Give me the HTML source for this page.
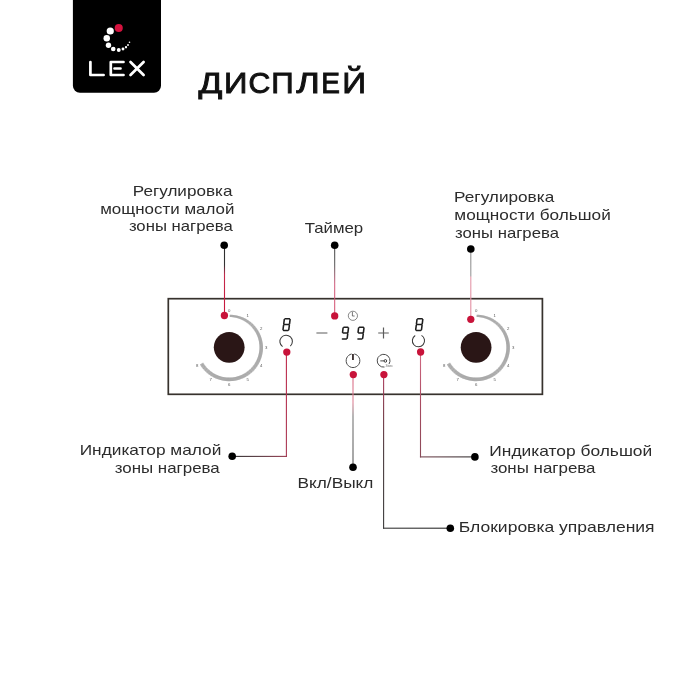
<!DOCTYPE html>
<html><head><meta charset="utf-8"><style>
html,body{margin:0;padding:0;background:#fff;}
body{width:700px;height:700px;overflow:hidden;font-family:"Liberation Sans",sans-serif;}
svg{display:block;will-change:transform;}
</style></head><body>
<svg width="700" height="700" viewBox="0 0 700 700">
<path d="M72.9,0 H161 V85.7 A7,7 0 0 1 154,92.7 H79.9 A7,7 0 0 1 72.9,85.7 Z" fill="#000"/>
<circle cx="118.75" cy="28" r="4.05" fill="#d4123e"/>
<circle cx="110.25" cy="31" r="3.6" fill="#fff"/>
<circle cx="106.75" cy="38.25" r="3.25" fill="#fff"/>
<circle cx="108.5" cy="45.25" r="2.7" fill="#fff"/>
<circle cx="113.25" cy="49" r="2.3" fill="#fff"/>
<circle cx="118.75" cy="50" r="1.95" fill="#fff"/>
<circle cx="123" cy="49" r="1.45" fill="#fff"/>
<circle cx="126" cy="47.25" r="1.15" fill="#fff"/>
<circle cx="128" cy="45" r="0.95" fill="#fff"/>
<circle cx="129.5" cy="42.25" r="0.8" fill="#fff"/>
<g stroke="#fff" stroke-width="2.7" stroke-linecap="round" stroke-linejoin="round" fill="none"><path d="M90.4,62 V75 H103.6"/><path d="M123.5,62 H110.8 V75 H123.5 M114.5,68.5 H120.5"/><path d="M130.5,62 L143.6,75 M143.6,62 L130.5,75"/></g>
<text transform="translate(198.39,93.20) scale(1.1877,1)" font-family="Liberation Sans" font-size="29.6" fill="#111" stroke="#111" stroke-width="0.9" stroke-linejoin="miter">Д</text>
<text transform="translate(224.07,93.20) scale(1.1024,1)" font-family="Liberation Sans" font-size="29.6" fill="#111" stroke="#111" stroke-width="0.9" stroke-linejoin="miter">И</text>
<text transform="translate(248.52,93.20) scale(1.0189,1)" font-family="Liberation Sans" font-size="29.6" fill="#111" stroke="#111" stroke-width="0.9" stroke-linejoin="miter">С</text>
<text transform="translate(271.33,93.20) scale(1.0524,1)" font-family="Liberation Sans" font-size="29.6" fill="#111" stroke="#111" stroke-width="0.9" stroke-linejoin="miter">П</text>
<text transform="translate(296.33,93.20) scale(1.2119,1)" font-family="Liberation Sans" font-size="29.6" fill="#111" stroke="#111" stroke-width="0.9" stroke-linejoin="miter">Л</text>
<text transform="translate(321.35,93.20) scale(0.9475,1)" font-family="Liberation Sans" font-size="29.6" fill="#111" stroke="#111" stroke-width="0.9" stroke-linejoin="miter">Е</text>
<text transform="translate(342.13,93.20) scale(1.1207,1)" font-family="Liberation Sans" font-size="29.6" fill="#111" stroke="#111" stroke-width="0.9" stroke-linejoin="miter">Й</text>
<text transform="translate(132.80,195.60) scale(1.2051,1)" font-family="Liberation Sans" font-size="14.2" fill="#2c2c2c">Регулировка</text>
<text transform="translate(100.22,213.60) scale(1.1942,1)" font-family="Liberation Sans" font-size="14.2" fill="#2c2c2c">мощности малой</text>
<text transform="translate(128.90,230.90) scale(1.1778,1)" font-family="Liberation Sans" font-size="14.2" fill="#2c2c2c">зоны нагрева</text>
<text transform="translate(304.72,232.90) scale(1.1842,1)" font-family="Liberation Sans" font-size="14.2" fill="#2c2c2c">Таймер</text>
<text transform="translate(454.09,202.00) scale(1.2112,1)" font-family="Liberation Sans" font-size="14.2" fill="#2c2c2c">Регулировка</text>
<text transform="translate(454.31,220.00) scale(1.2115,1)" font-family="Liberation Sans" font-size="14.2" fill="#2c2c2c">мощности большой</text>
<text transform="translate(455.10,238.00) scale(1.1778,1)" font-family="Liberation Sans" font-size="14.2" fill="#2c2c2c">зоны нагрева</text>
<text transform="translate(79.68,454.90) scale(1.2176,1)" font-family="Liberation Sans" font-size="14.2" fill="#2c2c2c">Индикатор малой</text>
<text transform="translate(114.70,473.40) scale(1.1914,1)" font-family="Liberation Sans" font-size="14.2" fill="#2c2c2c">зоны нагрева</text>
<text transform="translate(297.48,488.00) scale(1.2179,1)" font-family="Liberation Sans" font-size="14.2" fill="#2c2c2c">Вкл/Выкл</text>
<text transform="translate(489.37,455.60) scale(1.2252,1)" font-family="Liberation Sans" font-size="14.2" fill="#2c2c2c">Индикатор большой</text>
<text transform="translate(490.39,473.00) scale(1.1925,1)" font-family="Liberation Sans" font-size="14.2" fill="#2c2c2c">зоны нагрева</text>
<text transform="translate(458.76,532.30) scale(1.2338,1)" font-family="Liberation Sans" font-size="14.2" fill="#2c2c2c">Блокировка управления</text>
<rect x="168.3" y="298.7" width="374.1" height="95.6" fill="none" stroke="#37322d" stroke-width="1.7"/>
<circle cx="229.2" cy="347.3" r="15.4" fill="#2a1616"/>
<path d="M230.05,314.81 L231.74,314.86 L233.42,314.99 L235.09,315.20 L236.76,315.51 L238.41,315.90 L240.04,316.38 L241.64,316.94 L243.21,317.59 L244.75,318.31 L246.26,319.12 L247.72,320.01 L249.13,320.97 L250.50,322.00 L251.81,323.11 L253.06,324.28 L254.26,325.52 L255.39,326.82 L256.45,328.18 L257.44,329.59 L258.36,331.05 L259.20,332.57 L259.96,334.12 L260.65,335.72 L261.24,337.35 L261.76,339.01 L262.19,340.70 L262.53,342.41 L262.78,344.14 L262.94,345.88 L263.00,347.63 L262.94,349.38 L262.79,351.13 L262.55,352.86 L262.22,354.58 L261.80,356.28 L261.29,357.96 L260.70,359.61 L260.02,361.22 L259.26,362.80 L258.42,364.34 L257.50,365.83 L256.50,367.27 L255.43,368.66 L254.29,369.99 L253.08,371.26 L251.81,372.47 L250.48,373.61 L249.09,374.67 L247.65,375.67 L246.15,376.59 L244.61,377.43 L243.03,378.19 L241.42,378.87 L239.77,379.46 L238.09,379.96 L236.38,380.38 L234.66,380.71 L232.92,380.95 L231.17,381.10 L229.42,381.16 L227.67,381.13 L225.92,381.00 L224.18,380.79 L222.45,380.49 L220.74,380.10 L219.05,379.62 L217.39,379.05 L215.76,378.40 L214.17,377.66 L212.61,376.84 L211.10,375.95 L209.64,374.97 L208.24,373.92 L206.88,372.80 L205.59,371.61 L204.36,370.36 L203.20,369.04 L202.11,367.67 L201.09,366.24 L200.14,364.76 L203.23,362.91 L204.07,364.23 L204.98,365.51 L205.96,366.74 L206.99,367.92 L208.09,369.04 L209.25,370.10 L210.45,371.11 L211.71,372.04 L213.02,372.92 L214.37,373.72 L215.75,374.45 L217.18,375.11 L218.64,375.70 L220.12,376.21 L221.63,376.64 L223.16,376.99 L224.71,377.26 L226.26,377.46 L227.83,377.57 L229.40,377.60 L230.97,377.55 L232.53,377.42 L234.09,377.20 L235.63,376.91 L237.15,376.54 L238.66,376.09 L240.14,375.56 L241.58,374.95 L243.00,374.27 L244.38,373.52 L245.72,372.70 L247.01,371.81 L248.26,370.86 L249.45,369.84 L250.59,368.76 L251.67,367.62 L252.70,366.43 L253.65,365.19 L254.55,363.90 L255.37,362.56 L256.13,361.19 L256.81,359.77 L257.42,358.33 L257.96,356.85 L258.41,355.35 L258.79,353.83 L259.09,352.28 L259.31,350.73 L259.44,349.17 L259.50,347.60 L259.47,346.03 L259.37,344.46 L259.18,342.90 L258.91,341.36 L258.56,339.83 L258.14,338.31 L257.63,336.83 L257.05,335.37 L256.40,333.94 L255.67,332.55 L254.87,331.20 L254.00,329.89 L253.07,328.63 L252.07,327.42 L251.01,326.26 L249.89,325.16 L248.71,324.12 L247.49,323.14 L246.21,322.23 L244.89,321.38 L243.53,320.60 L242.13,319.90 L240.69,319.26 L239.22,318.71 L237.73,318.22 L236.21,317.82 L234.67,317.50 L233.12,317.25 L231.56,317.09 L229.99,317.01 Z" fill="#c6c6c6"/>
<path d="M229.99,317.01 L230.05,314.81 M230.89,317.05 L231.01,314.83 M231.78,317.11 L231.98,314.87 M232.68,317.20 L232.94,314.94 M233.57,317.32 L233.90,315.04 M234.45,317.46 L234.86,315.17 M235.33,317.63 L235.81,315.33 M236.21,317.82 L236.76,315.51 M237.08,318.04 L237.70,315.72 M237.94,318.29 L238.64,315.97 M238.80,318.56 L239.57,316.24 M239.64,318.86 L240.50,316.53 M240.48,319.18 L241.41,316.86 M241.31,319.52 L242.32,317.21 M242.13,319.90 L243.21,317.59 M242.93,320.29 L244.10,317.99 M243.72,320.71 L244.97,318.42 M244.51,321.15 L245.83,318.88 M245.27,321.61 L246.68,319.37 M246.03,322.10 L247.51,319.88 M246.76,322.61 L248.33,320.41 M247.49,323.14 L249.13,320.97 M248.19,323.69 L249.92,321.55 M248.89,324.27 L250.69,322.15 M249.56,324.86 L251.44,322.78 M250.21,325.47 L252.18,323.43 M250.85,326.10 L252.89,324.11 M251.47,326.75 L253.58,324.80 M252.07,327.42 L254.26,325.52 M252.65,328.11 L254.91,326.25 M253.20,328.81 L255.54,327.01 M253.74,329.53 L256.15,327.78 M254.26,330.26 L256.74,328.57 M254.75,331.01 L257.30,329.38 M255.22,331.78 L257.84,330.21 M255.67,332.55 L258.36,331.05 M256.09,333.34 L258.85,331.91 M256.50,334.14 L259.31,332.79 M256.87,334.96 L259.75,333.67 M257.23,335.78 L260.17,334.58 M257.55,336.62 L260.55,335.49 M257.86,337.46 L260.91,336.41 M258.14,338.31 L261.24,337.35 M258.39,339.18 L261.55,338.30 M258.62,340.04 L261.83,339.25 M258.82,340.92 L262.07,340.22 M259.00,341.80 L262.29,341.19 M259.15,342.68 L262.49,342.17 M259.27,343.57 L262.65,343.15 M259.37,344.46 L262.78,344.14 M259.44,345.36 L262.89,345.13 M259.48,346.25 L262.96,346.13 M259.50,347.15 L263.00,347.13 M259.49,348.05 L262.99,348.13 M259.46,348.94 L262.95,349.13 M259.39,349.84 L262.88,350.13 M259.31,350.73 L262.79,351.13 M259.19,351.62 L262.66,352.12 M259.05,352.51 L262.50,353.11 M258.88,353.39 L262.32,354.09 M258.69,354.26 L262.10,355.07 M258.47,355.13 L261.86,356.04 M258.23,356.00 L261.59,357.00 M257.96,356.85 L261.29,357.96 M257.66,357.70 L260.96,358.90 M257.34,358.54 L260.60,359.84 M256.99,359.36 L260.22,360.76 M256.63,360.18 L259.81,361.68 M256.23,360.99 L259.37,362.58 M255.81,361.78 L258.91,363.47 M255.37,362.56 L258.42,364.34 M254.91,363.33 L257.90,365.20 M254.42,364.09 L257.36,366.04 M253.92,364.83 L256.79,366.86 M253.39,365.55 L256.20,367.67 M252.84,366.26 L255.59,368.46 M252.26,366.95 L254.95,369.24 M251.67,367.62 L254.29,369.99 M251.06,368.28 L253.61,370.72 M250.43,368.92 L252.90,371.44 M249.78,369.54 L252.18,372.13 M249.11,370.14 L251.44,372.80 M248.43,370.72 L250.67,373.45 M247.73,371.28 L249.89,374.07 M247.01,371.81 L249.09,374.67 M246.28,372.33 L248.27,375.25 M245.53,372.82 L247.43,375.81 M244.77,373.30 L246.58,376.33 M243.99,373.75 L245.72,376.84 M243.20,374.17 L244.84,377.31 M242.40,374.57 L243.94,377.76 M241.58,374.95 L243.03,378.19 M240.76,375.31 L242.11,378.59 M239.93,375.64 L241.18,378.95 M239.08,375.94 L240.24,379.30 M238.23,376.22 L239.29,379.61 M237.37,376.48 L238.33,379.90 M236.50,376.71 L237.36,380.15 M235.63,376.91 L236.38,380.38 M234.75,377.09 L235.40,380.58 M233.87,377.24 L234.41,380.75 M232.98,377.36 L233.42,380.89 M232.09,377.46 L232.42,381.00 M231.19,377.53 L231.42,381.08 M230.30,377.58 L230.42,381.14 M229.40,377.60 L229.42,381.16 M228.50,377.59 L228.42,381.15 M227.60,377.56 L227.42,381.12 M226.71,377.50 L226.42,381.05 M225.82,377.41 L225.42,380.95 M224.93,377.30 L224.42,380.83 M224.04,377.16 L223.43,380.67 M223.16,376.99 L222.45,380.49 M222.28,376.80 L221.47,380.28 M221.41,376.58 L220.49,380.03 M220.55,376.34 L219.53,379.76 M219.69,376.07 L218.57,379.46 M218.85,375.78 L217.62,379.13 M218.01,375.46 L216.69,378.78 M217.18,375.11 L215.76,378.40 M216.36,374.75 L214.84,377.99 M215.55,374.35 L213.94,377.55 M214.76,373.94 L213.05,377.08 M213.98,373.50 L212.18,376.59 M213.21,373.04 L211.32,376.08 M212.45,372.55 L210.47,375.54 M211.71,372.04 L209.64,374.97 M210.99,371.52 L208.83,374.38 M210.28,370.97 L208.04,373.77 M209.59,370.40 L207.26,373.13 M208.91,369.80 L206.51,372.47 M208.25,369.19 L205.77,371.79 M207.62,368.56 L205.06,371.08 M206.99,367.92 L204.36,370.36 M206.39,367.25 L203.69,369.62 M205.81,366.57 L203.04,368.85 M205.25,365.87 L202.41,368.07 M204.71,365.15 L201.81,367.27 M204.20,364.42 L201.23,366.45 M203.70,363.67 L200.67,365.61 M203.23,362.91 L200.14,364.76 " stroke="#8a8a8a" stroke-width="0.5" fill="none"/>
<text x="229.2" y="311.7" font-family="Liberation Sans" font-size="4.3" fill="#555" text-anchor="middle">0</text>
<text x="247.7" y="316.7" font-family="Liberation Sans" font-size="4.3" fill="#555" text-anchor="middle">1</text>
<text x="261.2" y="330.2" font-family="Liberation Sans" font-size="4.3" fill="#555" text-anchor="middle">2</text>
<text x="266.2" y="348.7" font-family="Liberation Sans" font-size="4.3" fill="#555" text-anchor="middle">3</text>
<text x="261.2" y="367.2" font-family="Liberation Sans" font-size="4.3" fill="#555" text-anchor="middle">4</text>
<text x="247.7" y="380.7" font-family="Liberation Sans" font-size="4.3" fill="#555" text-anchor="middle">5</text>
<text x="229.2" y="385.7" font-family="Liberation Sans" font-size="4.3" fill="#555" text-anchor="middle">6</text>
<text x="210.7" y="380.7" font-family="Liberation Sans" font-size="4.3" fill="#555" text-anchor="middle">7</text>
<text x="197.2" y="367.2" font-family="Liberation Sans" font-size="4.3" fill="#555" text-anchor="middle">8</text>
<circle cx="476.1" cy="347.3" r="15.4" fill="#2a1616"/>
<path d="M476.95,314.81 L478.64,314.86 L480.32,314.99 L481.99,315.20 L483.66,315.51 L485.31,315.90 L486.94,316.38 L488.54,316.94 L490.11,317.59 L491.65,318.31 L493.16,319.12 L494.62,320.01 L496.03,320.97 L497.40,322.00 L498.71,323.11 L499.96,324.28 L501.16,325.52 L502.29,326.82 L503.35,328.18 L504.34,329.59 L505.26,331.05 L506.10,332.57 L506.86,334.12 L507.55,335.72 L508.14,337.35 L508.66,339.01 L509.09,340.70 L509.43,342.41 L509.68,344.14 L509.84,345.88 L509.90,347.63 L509.84,349.38 L509.69,351.13 L509.45,352.86 L509.12,354.58 L508.70,356.28 L508.19,357.96 L507.60,359.61 L506.92,361.22 L506.16,362.80 L505.32,364.34 L504.40,365.83 L503.40,367.27 L502.33,368.66 L501.19,369.99 L499.98,371.26 L498.71,372.47 L497.38,373.61 L495.99,374.67 L494.55,375.67 L493.05,376.59 L491.51,377.43 L489.93,378.19 L488.32,378.87 L486.67,379.46 L484.99,379.96 L483.28,380.38 L481.56,380.71 L479.82,380.95 L478.07,381.10 L476.32,381.16 L474.57,381.13 L472.82,381.00 L471.08,380.79 L469.35,380.49 L467.64,380.10 L465.95,379.62 L464.29,379.05 L462.66,378.40 L461.07,377.66 L459.51,376.84 L458.00,375.95 L456.54,374.97 L455.14,373.92 L453.78,372.80 L452.49,371.61 L451.26,370.36 L450.10,369.04 L449.01,367.67 L447.99,366.24 L447.04,364.76 L450.13,362.91 L450.97,364.23 L451.88,365.51 L452.86,366.74 L453.89,367.92 L454.99,369.04 L456.15,370.10 L457.35,371.11 L458.61,372.04 L459.92,372.92 L461.27,373.72 L462.65,374.45 L464.08,375.11 L465.54,375.70 L467.02,376.21 L468.53,376.64 L470.06,376.99 L471.61,377.26 L473.16,377.46 L474.73,377.57 L476.30,377.60 L477.87,377.55 L479.43,377.42 L480.99,377.20 L482.53,376.91 L484.05,376.54 L485.56,376.09 L487.04,375.56 L488.48,374.95 L489.90,374.27 L491.28,373.52 L492.62,372.70 L493.91,371.81 L495.16,370.86 L496.35,369.84 L497.49,368.76 L498.57,367.62 L499.60,366.43 L500.55,365.19 L501.45,363.90 L502.27,362.56 L503.03,361.19 L503.71,359.77 L504.32,358.33 L504.86,356.85 L505.31,355.35 L505.69,353.83 L505.99,352.28 L506.21,350.73 L506.34,349.17 L506.40,347.60 L506.37,346.03 L506.27,344.46 L506.08,342.90 L505.81,341.36 L505.46,339.83 L505.04,338.31 L504.53,336.83 L503.95,335.37 L503.30,333.94 L502.57,332.55 L501.77,331.20 L500.90,329.89 L499.97,328.63 L498.97,327.42 L497.91,326.26 L496.79,325.16 L495.61,324.12 L494.39,323.14 L493.11,322.23 L491.79,321.38 L490.43,320.60 L489.03,319.90 L487.59,319.26 L486.12,318.71 L484.63,318.22 L483.11,317.82 L481.57,317.50 L480.02,317.25 L478.46,317.09 L476.89,317.01 Z" fill="#c6c6c6"/>
<path d="M476.89,317.01 L476.95,314.81 M477.79,317.05 L477.91,314.83 M478.68,317.11 L478.88,314.87 M479.58,317.20 L479.84,314.94 M480.47,317.32 L480.80,315.04 M481.35,317.46 L481.76,315.17 M482.23,317.63 L482.71,315.33 M483.11,317.82 L483.66,315.51 M483.98,318.04 L484.60,315.72 M484.84,318.29 L485.54,315.97 M485.70,318.56 L486.47,316.24 M486.54,318.86 L487.40,316.53 M487.38,319.18 L488.31,316.86 M488.21,319.52 L489.22,317.21 M489.03,319.90 L490.11,317.59 M489.83,320.29 L491.00,317.99 M490.62,320.71 L491.87,318.42 M491.41,321.15 L492.73,318.88 M492.17,321.61 L493.58,319.37 M492.93,322.10 L494.41,319.88 M493.66,322.61 L495.23,320.41 M494.39,323.14 L496.03,320.97 M495.09,323.69 L496.82,321.55 M495.79,324.27 L497.59,322.15 M496.46,324.86 L498.34,322.78 M497.11,325.47 L499.08,323.43 M497.75,326.10 L499.79,324.11 M498.37,326.75 L500.48,324.80 M498.97,327.42 L501.16,325.52 M499.55,328.11 L501.81,326.25 M500.10,328.81 L502.44,327.01 M500.64,329.53 L503.05,327.78 M501.16,330.26 L503.64,328.57 M501.65,331.01 L504.20,329.38 M502.12,331.78 L504.74,330.21 M502.57,332.55 L505.26,331.05 M502.99,333.34 L505.75,331.91 M503.40,334.14 L506.21,332.79 M503.77,334.96 L506.65,333.67 M504.13,335.78 L507.07,334.58 M504.45,336.62 L507.45,335.49 M504.76,337.46 L507.81,336.41 M505.04,338.31 L508.14,337.35 M505.29,339.18 L508.45,338.30 M505.52,340.04 L508.73,339.25 M505.72,340.92 L508.97,340.22 M505.90,341.80 L509.19,341.19 M506.05,342.68 L509.39,342.17 M506.17,343.57 L509.55,343.15 M506.27,344.46 L509.68,344.14 M506.34,345.36 L509.79,345.13 M506.38,346.25 L509.86,346.13 M506.40,347.15 L509.90,347.13 M506.39,348.05 L509.89,348.13 M506.36,348.94 L509.85,349.13 M506.29,349.84 L509.78,350.13 M506.21,350.73 L509.69,351.13 M506.09,351.62 L509.56,352.12 M505.95,352.51 L509.40,353.11 M505.78,353.39 L509.22,354.09 M505.59,354.26 L509.00,355.07 M505.37,355.13 L508.76,356.04 M505.13,356.00 L508.49,357.00 M504.86,356.85 L508.19,357.96 M504.56,357.70 L507.86,358.90 M504.24,358.54 L507.50,359.84 M503.89,359.36 L507.12,360.76 M503.53,360.18 L506.71,361.68 M503.13,360.99 L506.27,362.58 M502.71,361.78 L505.81,363.47 M502.27,362.56 L505.32,364.34 M501.81,363.33 L504.80,365.20 M501.32,364.09 L504.26,366.04 M500.82,364.83 L503.69,366.86 M500.29,365.55 L503.10,367.67 M499.74,366.26 L502.49,368.46 M499.16,366.95 L501.85,369.24 M498.57,367.62 L501.19,369.99 M497.96,368.28 L500.51,370.72 M497.33,368.92 L499.80,371.44 M496.68,369.54 L499.08,372.13 M496.01,370.14 L498.34,372.80 M495.33,370.72 L497.57,373.45 M494.63,371.28 L496.79,374.07 M493.91,371.81 L495.99,374.67 M493.18,372.33 L495.17,375.25 M492.43,372.82 L494.33,375.81 M491.67,373.30 L493.48,376.33 M490.89,373.75 L492.62,376.84 M490.10,374.17 L491.74,377.31 M489.30,374.57 L490.84,377.76 M488.48,374.95 L489.93,378.19 M487.66,375.31 L489.01,378.59 M486.83,375.64 L488.08,378.95 M485.98,375.94 L487.14,379.30 M485.13,376.22 L486.19,379.61 M484.27,376.48 L485.23,379.90 M483.40,376.71 L484.26,380.15 M482.53,376.91 L483.28,380.38 M481.65,377.09 L482.30,380.58 M480.77,377.24 L481.31,380.75 M479.88,377.36 L480.32,380.89 M478.99,377.46 L479.32,381.00 M478.09,377.53 L478.32,381.08 M477.20,377.58 L477.32,381.14 M476.30,377.60 L476.32,381.16 M475.40,377.59 L475.32,381.15 M474.50,377.56 L474.32,381.12 M473.61,377.50 L473.32,381.05 M472.72,377.41 L472.32,380.95 M471.83,377.30 L471.32,380.83 M470.94,377.16 L470.33,380.67 M470.06,376.99 L469.35,380.49 M469.18,376.80 L468.37,380.28 M468.31,376.58 L467.39,380.03 M467.45,376.34 L466.43,379.76 M466.59,376.07 L465.47,379.46 M465.75,375.78 L464.52,379.13 M464.91,375.46 L463.59,378.78 M464.08,375.11 L462.66,378.40 M463.26,374.75 L461.74,377.99 M462.45,374.35 L460.84,377.55 M461.66,373.94 L459.95,377.08 M460.88,373.50 L459.08,376.59 M460.11,373.04 L458.22,376.08 M459.35,372.55 L457.37,375.54 M458.61,372.04 L456.54,374.97 M457.89,371.52 L455.73,374.38 M457.18,370.97 L454.94,373.77 M456.49,370.40 L454.16,373.13 M455.81,369.80 L453.41,372.47 M455.15,369.19 L452.67,371.79 M454.52,368.56 L451.96,371.08 M453.89,367.92 L451.26,370.36 M453.29,367.25 L450.59,369.62 M452.71,366.57 L449.94,368.85 M452.15,365.87 L449.31,368.07 M451.61,365.15 L448.71,367.27 M451.10,364.42 L448.13,366.45 M450.60,363.67 L447.57,365.61 M450.13,362.91 L447.04,364.76 " stroke="#8a8a8a" stroke-width="0.5" fill="none"/>
<text x="476.1" y="311.7" font-family="Liberation Sans" font-size="4.3" fill="#555" text-anchor="middle">0</text>
<text x="494.6" y="316.7" font-family="Liberation Sans" font-size="4.3" fill="#555" text-anchor="middle">1</text>
<text x="508.1" y="330.2" font-family="Liberation Sans" font-size="4.3" fill="#555" text-anchor="middle">2</text>
<text x="513.1" y="348.7" font-family="Liberation Sans" font-size="4.3" fill="#555" text-anchor="middle">3</text>
<text x="508.1" y="367.2" font-family="Liberation Sans" font-size="4.3" fill="#555" text-anchor="middle">4</text>
<text x="494.6" y="380.7" font-family="Liberation Sans" font-size="4.3" fill="#555" text-anchor="middle">5</text>
<text x="476.1" y="385.7" font-family="Liberation Sans" font-size="4.3" fill="#555" text-anchor="middle">6</text>
<text x="457.6" y="380.7" font-family="Liberation Sans" font-size="4.3" fill="#555" text-anchor="middle">7</text>
<text x="444.1" y="367.2" font-family="Liberation Sans" font-size="4.3" fill="#555" text-anchor="middle">8</text>
<path d="M285.15,318.70 L289.45,318.70 M290.10,319.44 L289.54,323.81 M289.35,325.29 L288.80,329.66 M283.65,330.40 L287.95,330.40 M283.55,325.29 L283.00,329.66 M284.30,319.44 L283.74,323.81 M284.40,324.55 L288.70,324.55 " stroke="#1e1e1e" stroke-width="1.55" stroke-linecap="round" fill="none"/>
<path d="M417.85,318.70 L422.15,318.70 M422.80,319.44 L422.24,323.81 M422.05,325.29 L421.50,329.66 M416.35,330.40 L420.65,330.40 M416.25,325.29 L415.70,329.66 M417.00,319.44 L416.44,323.81 M417.10,324.55 L421.40,324.55 " stroke="#1e1e1e" stroke-width="1.55" stroke-linecap="round" fill="none"/>
<path d="M343.95,327.20 L347.85,327.20 M348.50,327.94 L347.94,332.31 M347.75,333.79 L347.20,338.16 M342.45,338.90 L346.35,338.90 M343.10,327.94 L342.54,332.31 M343.20,333.05 L347.10,333.05 " stroke="#1e1e1e" stroke-width="1.55" stroke-linecap="round" fill="none"/>
<path d="M359.45,327.20 L363.35,327.20 M364.00,327.94 L363.44,332.31 M363.25,333.79 L362.70,338.16 M357.95,338.90 L361.85,338.90 M358.60,327.94 L358.04,332.31 M358.70,333.05 L362.60,333.05 " stroke="#1e1e1e" stroke-width="1.55" stroke-linecap="round" fill="none"/>
<path d="M316.4,333 H327.4 M378.2,333 H388.8 M383.5,327.6 V338.4" stroke="#5c5c5c" stroke-width="1.2" fill="none"/>
<path d="M282.57,346.62 A6.25,6.25 0 1 1 290.33,346.14" fill="none" stroke="#3a3a3a" stroke-width="1.05"/>
<path d="M421.50,335.42 A6.1,6.1 0 1 1 415.22,335.53" fill="none" stroke="#3a3a3a" stroke-width="1.05"/>
<path d="M354.31,353.98 A6.85,6.85 0 1 1 351.69,353.98" fill="none" stroke="#4a4a4a" stroke-width="1.0"/>
<path d="M352.95,353.9 V359.9" stroke="#362a2a" stroke-width="1.8"/>
<path d="M384.49,367.04 A6.4,6.4 0 1 1 389.03,364.09" fill="none" stroke="#4a4a4a" stroke-width="1.0"/>
<circle cx="385.4" cy="360.9" r="1.3" fill="none" stroke="#333" stroke-width="1"/>
<path d="M380.3,360.9 H384" stroke="#333" stroke-width="0.9"/>
<text x="385.5" y="367" font-family="Liberation Sans" font-size="3.6" fill="#666">3sec</text>
<circle cx="352.9" cy="315.8" r="4.6" fill="none" stroke="#6a6a6a" stroke-width="0.8"/>
<path d="M352.4,311.9 V316 H354.6" stroke="#555" stroke-width="0.8" fill="none"/>
<defs><linearGradient id="g1" gradientUnits="userSpaceOnUse" x1="224.5" y1="245.3" x2="224.5" y2="315.5"><stop offset="0" stop-color="#2a2a2a"/><stop offset="0.28" stop-color="#333"/><stop offset="0.42" stop-color="#c42a4c"/><stop offset="1" stop-color="#c8133a"/></linearGradient></defs>
<rect x="223.95" y="245.3" width="1.1" height="70.19999999999999" fill="url(#g1)"/>
<defs><linearGradient id="g2" gradientUnits="userSpaceOnUse" x1="334.7" y1="245.3" x2="334.7" y2="315.9"><stop offset="0" stop-color="#3a3a3a"/><stop offset="0.28" stop-color="#555"/><stop offset="0.55" stop-color="#d0587a"/><stop offset="1" stop-color="#d44a6a"/></linearGradient></defs>
<rect x="334.20" y="245.3" width="1.0" height="70.59999999999997" fill="url(#g2)"/>
<defs><linearGradient id="g3" gradientUnits="userSpaceOnUse" x1="470.8" y1="249" x2="470.8" y2="319.3"><stop offset="0" stop-color="#8e8e8e"/><stop offset="0.38" stop-color="#9a9a9a"/><stop offset="0.4" stop-color="#e49aab"/><stop offset="1" stop-color="#e28a9e"/></linearGradient></defs>
<rect x="470.25" y="249" width="1.1" height="70.30000000000001" fill="url(#g3)"/>
<defs><linearGradient id="g4" gradientUnits="userSpaceOnUse" x1="286.4" y1="352" x2="286.4" y2="456.9"><stop offset="0" stop-color="#c0284a"/><stop offset="1" stop-color="#a83a55"/></linearGradient></defs>
<rect x="285.85" y="352" width="1.1" height="104.89999999999998" fill="url(#g4)"/>
<defs><linearGradient id="g5" gradientUnits="userSpaceOnUse" x1="232.1" y1="456.4" x2="286.9" y2="456.4"><stop offset="0" stop-color="#2e2e2e"/><stop offset="0.5" stop-color="#5a3a42"/><stop offset="1" stop-color="#9a3a50"/></linearGradient></defs>
<rect x="232.1" y="455.85" width="54.79999999999998" height="1.1" fill="url(#g5)"/>
<defs><linearGradient id="g6" gradientUnits="userSpaceOnUse" x1="353.0" y1="374.6" x2="353.0" y2="467.3"><stop offset="0" stop-color="#d86a84"/><stop offset="0.3" stop-color="#e08598"/><stop offset="0.45" stop-color="#7a7a7a"/><stop offset="1" stop-color="#5a5a5a"/></linearGradient></defs>
<rect x="352.45" y="374.6" width="1.1" height="92.69999999999999" fill="url(#g6)"/>
<defs><linearGradient id="g7" gradientUnits="userSpaceOnUse" x1="383.6" y1="374.6" x2="383.6" y2="528.7"><stop offset="0" stop-color="#b04060"/><stop offset="0.25" stop-color="#7a3a48"/><stop offset="0.5" stop-color="#4a3a3e"/><stop offset="1" stop-color="#3a3a3a"/></linearGradient></defs>
<rect x="383.05" y="374.6" width="1.1" height="154.10000000000002" fill="url(#g7)"/>
<defs><linearGradient id="g8" gradientUnits="userSpaceOnUse" x1="383.05" y1="528.2" x2="450.3" y2="528.2"><stop offset="0" stop-color="#3a3a3a"/><stop offset="1" stop-color="#2a2a2a"/></linearGradient></defs>
<rect x="383.05" y="527.65" width="67.25" height="1.1" fill="url(#g8)"/>
<defs><linearGradient id="g9" gradientUnits="userSpaceOnUse" x1="420.5" y1="352" x2="420.5" y2="457.4"><stop offset="0" stop-color="#d26a84"/><stop offset="0.5" stop-color="#a84a60"/><stop offset="1" stop-color="#8a4a58"/></linearGradient></defs>
<rect x="419.95" y="352" width="1.1" height="105.39999999999998" fill="url(#g9)"/>
<defs><linearGradient id="g10" gradientUnits="userSpaceOnUse" x1="419.95" y1="456.9" x2="474.9" y2="456.9"><stop offset="0" stop-color="#7a4a55"/><stop offset="1" stop-color="#333"/></linearGradient></defs>
<rect x="419.95" y="456.35" width="54.94999999999999" height="1.1" fill="url(#g10)"/>
<circle cx="224.4" cy="315.5" r="3.65" fill="#c8133a"/>
<circle cx="334.7" cy="315.9" r="3.65" fill="#c8133a"/>
<circle cx="470.8" cy="319.3" r="3.65" fill="#c8133a"/>
<circle cx="286.8" cy="352.1" r="3.65" fill="#c8133a"/>
<circle cx="420.6" cy="352" r="3.65" fill="#c8133a"/>
<circle cx="353.3" cy="374.6" r="3.65" fill="#c8133a"/>
<circle cx="383.9" cy="374.6" r="3.65" fill="#c8133a"/>
<circle cx="224.2" cy="245.3" r="3.8" fill="#000"/>
<circle cx="334.7" cy="245.3" r="3.8" fill="#000"/>
<circle cx="470.8" cy="249" r="3.8" fill="#000"/>
<circle cx="232.2" cy="456.3" r="3.8" fill="#000"/>
<circle cx="353" cy="467.3" r="3.8" fill="#000"/>
<circle cx="450.3" cy="528.2" r="3.8" fill="#000"/>
<circle cx="474.9" cy="456.9" r="3.8" fill="#000"/>
</svg>
</body></html>
